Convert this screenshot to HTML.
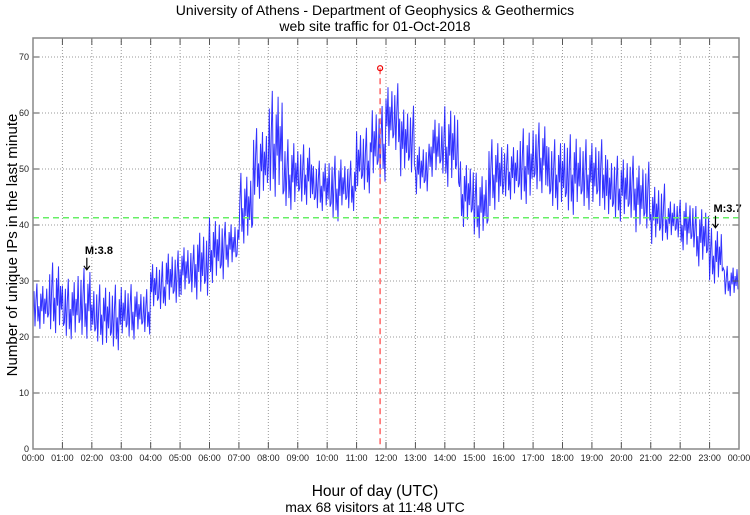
<!DOCTYPE html>
<html><head><meta charset="utf-8"><style>
body{margin:0;background:#fff;}
svg{display:block;font-family:"Liberation Sans",sans-serif;}
</style></head><body>
<svg id="chart" width="750" height="515">
<text x="375" y="15" font-size="14" text-anchor="middle">University of Athens - Department of Geophysics &amp; Geothermics</text>
<text x="375" y="31" font-size="14" text-anchor="middle">web site traffic for 01-Oct-2018</text>
<g id="grid"></g>
<g id="series"></g>
<g id="axes"></g>
<text x="375" y="496" font-size="15.5" text-anchor="middle">Hour of day (UTC)</text>
<text x="375" y="512" font-size="14" text-anchor="middle">max 68 visitors at 11:48 UTC</text>
<text transform="translate(17,245) rotate(-90)" font-size="15" text-anchor="middle">Number of unique IPs in the last minute</text>
</svg>
<script>
const hourLabels=["00:00","01:00","02:00","03:00","04:00","05:00","06:00","07:00","08:00","09:00","10:00","11:00","12:00","13:00","14:00","15:00","16:00","17:00","18:00","19:00","20:00","21:00","22:00","23:00","00:00"];
const yTicks=[0,10,20,30,40,50,60,70];
const lowVals=[21,20,19,19,18,17,19,20,24,25,27,26,29,32,36,44,44,42,43,42,40,42,45,47,52,48,45,48,46,39,37,42,44,43,45,42,41,42,42,40,40,38,36,37,35,32,29,27];
const highVals=[30,34,31,33,30,30,30,29,34,36,37,40,42,41,50,58,65,56,55,52,53,52,58,62,66,62,55,60,62,52,50,56,55,58,59,56,57,56,56,53,53,52,48,45,45,44,40,33];
const jitter=[0.3,0.8,0.1,0.6,0.95,0.2,0.5,0.05,0.75,0.4,0.9,0.15,0.65,0.35,0.85,0.25];
const meanLine=41.3;
const maxValue=68, maxHour=11.8;
const markers=[{h:1.83,v:32,label:"M:3.8"},{h:23.2,v:39.5,label:"M:3.7"}];

const X0=33,X1=739,Y0=449,Ypx=5.6;
const xs=h=>X0+(X1-X0)*h/24;
const ys=v=>Y0-v*Ypx;
const NS="http://www.w3.org/2000/svg";
function mk(tag,attrs,parent){const e=document.createElementNS(NS,tag);for(const k in attrs)e.setAttribute(k,attrs[k]);parent.appendChild(e);return e;}
const grid=document.getElementById('grid'),axes=document.getElementById('axes'),series=document.getElementById('series');
hourLabels.forEach((l,i)=>{
  const x=xs(i);
  if(i>0&&i<24){const g=mk('line',{x1:x,x2:x,y1:38,y2:Y0,stroke:'#999','stroke-dasharray':'1,2','stroke-width':1},grid);
  
  mk('line',{x1:x,x2:x,y1:38,y2:45,stroke:'#555'},axes);mk('line',{x1:x,x2:x,y1:Y0-7,y2:Y0,stroke:'#555'},axes);}
  const t=mk('text',{x:x,y:461,'font-size':9,'text-anchor':'middle',fill:'#222'},axes);t.textContent=l;
  
});
yTicks.forEach(v=>{
  const y=ys(v);
  if(v>0){const g=mk('line',{x1:X0,x2:X1,y1:y,y2:y,stroke:'#999','stroke-dasharray':'1,2'},grid);
  
  mk('line',{x1:X0,x2:X0+6,y1:y,y2:y,stroke:'#555'},axes);mk('line',{x1:X1-6,x2:X1,y1:y,y2:y,stroke:'#555'},axes);}
  const t=mk('text',{x:29,y:y+3,'font-size':9,'text-anchor':'end',fill:'#222'},axes);t.textContent=v;
  
});
const fr=mk('rect',{x:X0,y:38,width:X1-X0,height:Y0-38,fill:'none',stroke:'#888','stroke-width':1.5},axes);

let pts=[];const n=lowVals.length,per=15;
for(let i=0;i<n;i++){for(let k=0;k<per;k++){const idx=i*per+k;const j=jitter[idx%jitter.length];
  const h=(i+k/per)/2;const v=lowVals[i]+(highVals[i]-lowVals[i])*j;pts.push(xs(h).toFixed(1)+','+ys(v).toFixed(1));}}
const pl=mk('polyline',{points:pts.join(' '),fill:'none',stroke:'#0000ff','stroke-width':1,'stroke-opacity':0.8},series);

const ml=mk('line',{x1:X0,x2:X1,y1:ys(meanLine),y2:ys(meanLine),stroke:'#66ee66','stroke-width':1.5,'stroke-dasharray':'6,4'},series);

const rl=mk('line',{x1:xs(maxHour),x2:xs(maxHour),y1:ys(maxValue),y2:Y0,stroke:'#ff6666','stroke-width':1.5,'stroke-dasharray':'6,4'},series);

const mc=mk('circle',{cx:xs(maxHour),cy:ys(maxValue),r:2.5,fill:'none',stroke:'#ee0000','stroke-width':1.2},series);

markers.forEach(m=>{
  const x=xs(m.h),y=ys(m.v);
  const a=mk('path',{d:`M${x},${y-12} L${x},${y} M${x-3},${y-4} L${x},${y} L${x+3},${y-4}`,fill:'none',stroke:'#000','stroke-width':1.2},series);
  
  const t=mk('text',{x:x-2,y:y-16,'font-size':11,'font-weight':'bold'},series);t.textContent=m.label;
  
});
</script>
</body></html>
